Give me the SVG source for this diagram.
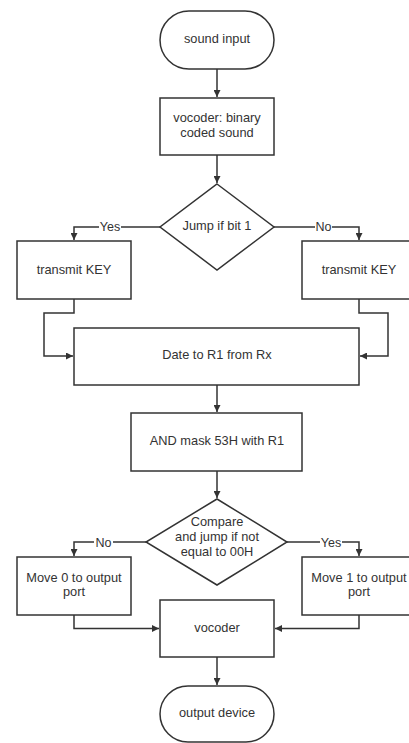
<svg xmlns="http://www.w3.org/2000/svg" width="409" height="743" viewBox="0 0 409 743">
<defs>
<style>
.s{fill:#fff;stroke:#333;stroke-width:1.5}
.c{fill:none;stroke:#333;stroke-width:1.5}
.t{font-family:"Liberation Sans",Arial,sans-serif;font-size:12.8px;fill:#333;text-anchor:middle}
.l{font-family:"Liberation Sans",Arial,sans-serif;font-size:12.5px;fill:#333;text-anchor:middle}
.lb{fill:#fff}
</style>
<marker id="a" viewBox="0 0 10 10" refX="10" refY="5" markerWidth="8" markerHeight="7" markerUnits="userSpaceOnUse" orient="auto">
<path d="M0,0 L10,5 L0,10 z" fill="#333"/>
</marker>
</defs>
<rect width="409" height="743" fill="#fff"/>
<g id="connectors">
<path class="c" d="M217,69 V97" marker-end="url(#a)"/>
<path class="c" d="M217,155 V183" marker-end="url(#a)"/>
<path class="c" d="M160,227 H74 V240" marker-end="url(#a)"/>
<path class="c" d="M274,227 H359 V240" marker-end="url(#a)"/>
<path class="c" d="M74,299 V313 H44 V356 H73" marker-end="url(#a)"/>
<path class="c" d="M359,299 V313 H388 V356 H360" marker-end="url(#a)"/>
<path class="c" d="M217,385 V412" marker-end="url(#a)"/>
<path class="c" d="M217,471 V498" marker-end="url(#a)"/>
<path class="c" d="M146,542 H74 V556" marker-end="url(#a)"/>
<path class="c" d="M287,542 H359 V556" marker-end="url(#a)"/>
<path class="c" d="M74,615 V628.5 H159" marker-end="url(#a)"/>
<path class="c" d="M359,615 V628.5 H275" marker-end="url(#a)"/>
<path class="c" d="M217,657 V685" marker-end="url(#a)"/>
<rect class="lb" x="99" y="220" width="22" height="14"/>
<text class="l" x="110" y="231">Yes</text>
<rect class="lb" x="315" y="220" width="17" height="14"/>
<text class="l" x="323.5" y="231">No</text>
<rect class="lb" x="94" y="535" width="19" height="14"/>
<text class="l" x="103.5" y="546.5">No</text>
<rect class="lb" x="320" y="535" width="22" height="14"/>
<text class="l" x="331" y="546.5">Yes</text>
</g>
<g id="sound-input">
<rect class="s" x="160" y="11" width="114" height="58" rx="29" ry="29"/>
<text class="t" x="217" y="43">sound input</text>
</g>
<g id="vocoder-binary">
<rect class="s" x="160" y="98" width="114" height="57"/>
<text class="t" x="217" y="121.5">vocoder: binary</text>
<text class="t" x="217" y="136.5">coded sound</text>
</g>
<g id="jump-bit">
<polygon class="s" points="217,184 274,227 217,270 160,227"/>
<text class="t" x="217" y="230">Jump if bit 1</text>
</g>
<g id="transmit-left">
<rect class="s" x="17" y="241" width="114" height="58"/>
<text class="t" x="74" y="273.5">transmit KEY</text>
</g>
<g id="transmit-right">
<rect class="s" x="302" y="241" width="114" height="58"/>
<text class="t" x="359" y="273.5">transmit KEY</text>
</g>
<g id="date-r1">
<rect class="s" x="74" y="328" width="285" height="57"/>
<text class="t" x="217" y="358.5">Date to R1 from Rx</text>
</g>
<g id="and-mask">
<rect class="s" x="131" y="413" width="171" height="58"/>
<text class="t" x="217" y="445">AND mask 53H with R1</text>
</g>
<g id="compare">
<polygon class="s" points="217,499 287,542 217,585 146,542"/>
<text class="t" x="217" y="526">Compare</text>
<text class="t" x="217" y="541">and jump if not</text>
<text class="t" x="217" y="556">equal to 00H</text>
</g>
<g id="move0">
<rect class="s" x="17" y="557" width="114" height="58"/>
<text class="t" x="74" y="581.5">Move 0 to output</text>
<text class="t" x="74" y="596">port</text>
</g>
<g id="move1">
<rect class="s" x="302" y="557" width="114" height="58"/>
<text class="t" x="359" y="581.5">Move 1 to output</text>
<text class="t" x="359" y="596">port</text>
</g>
<g id="vocoder">
<rect class="s" x="160" y="600" width="114" height="57"/>
<text class="t" x="217" y="632">vocoder</text>
</g>
<g id="output-device">
<rect class="s" x="160" y="686" width="114" height="56" rx="28" ry="28"/>
<text class="t" x="217" y="717">output device</text>
</g>
</svg>
